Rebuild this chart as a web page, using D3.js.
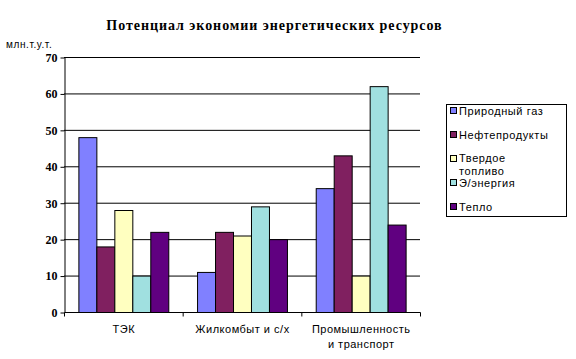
<!DOCTYPE html>
<html><head><meta charset="utf-8">
<script src="https://cdn.jsdelivr.net/npm/d3@7"></script>
<style>body{margin:0;background:#fff}</style>
</head><body>
<svg id="c" width="576" height="359"></svg>
<script>
const categories = [["ТЭК"], ["Жилкомбыт и с/х"], ["Промышленность", "и транспорт"]];
const seriesNames = ["Природный газ", "Нефтепродукты", "Твердое топливо", "Э/энергия", "Тепло"];
const gas = [48, 11, 34];
const oil = [18, 22, 43];
const solid = [28, 21, 10];
const elec = [10, 29, 62];
const heat = [22, 20, 24];
const yTicks = [0, 10, 20, 30, 40, 50, 60, 70];
const colors = ["#8080FF", "#802060", "#FFFFC0", "#A0E0E0", "#600080"];
const series = [gas, oil, solid, elec, heat];

const svg = d3.select("#c");
const L = 64, R = 420, T = 57, B = 312;
const x0 = d3.scaleBand().domain(d3.range(categories.length)).range([L, R]).paddingInner(0).paddingOuter(0);
const x1 = d3.scaleBand().domain(d3.range(series.length)).range([0, x0.bandwidth()]).paddingOuter(0.8).paddingInner(0);
const y = d3.scaleLinear().domain([0, 70]).range([B, T]);

svg.append("text").attr("x", 274.5).attr("y", 30).attr("text-anchor", "middle")
  .attr("font-family", "Liberation Serif").attr("font-weight", "bold").attr("font-size", 14)
  .attr("letter-spacing", 0.95)
  .text("Потенциал экономии энергетических ресурсов");
svg.append("text").attr("x", 6).attr("y", 48)
  .attr("font-family", "Liberation Sans").attr("font-size", 10).attr("letter-spacing", 0.6).text("млн.т.у.т.");

// grid
svg.append("g").selectAll("line").data(yTicks.filter(d => d > 0)).join("line")
  .attr("x1", L).attr("x2", R).attr("y1", d => y(d) + 0.5).attr("y2", d => y(d) + 0.5)
  .attr("stroke", "#000").attr("stroke-width", 1);

// bars
series.forEach((s, si) => {
  svg.append("g").selectAll("rect").data(s).join("rect")
    .attr("x", (d, i) => x0(i) + x1(si) + 0.5)
    .attr("y", d => y(d) + 0.5)
    .attr("width", x1.bandwidth())
    .attr("height", d => y(0) - y(d))
    .attr("fill", colors[si]).attr("stroke", "#000").attr("stroke-width", 1);
});

// y axis
const ya = svg.append("g").attr("transform", `translate(${L + 0.5},0.5)`)
  .call(d3.axisLeft(y).tickValues(yTicks).tickSize(4).tickPadding(3).tickSizeOuter(0));
ya.select(".domain").attr("stroke", "#000");
ya.selectAll("text").attr("font-family", "Liberation Serif").attr("font-weight", "bold").attr("font-size", 12).attr("fill", "#000");

// x axis
const xa = svg.append("g").attr("transform", `translate(0.5,${B + 0.5})`);
xa.append("line").attr("x1", L).attr("x2", R).attr("stroke", "#000");
const bounds = d3.range(categories.length + 1).map(i => i < categories.length ? x0(i) : R);
xa.selectAll(".tk").data(bounds).join("line").attr("class", "tk")
  .attr("x1", d => d).attr("x2", d => d).attr("y1", 0).attr("y2", 4).attr("stroke", "#000");
categories.forEach((lines, i) => {
  const t = xa.append("text").attr("text-anchor", "middle")
    .attr("font-family", "Liberation Sans").attr("font-size", 11).attr("letter-spacing", 0.5).attr("fill", "#000");
  lines.forEach((ln, j) => t.append("tspan").attr("x", x0(i) + x0.bandwidth() / 2).attr("y", 20 + j * 15).text(ln));
});

// legend
const lg = svg.append("g");
lg.append("rect").attr("x", 446.5).attr("y", 104.5).attr("width", 120).attr("height", 112)
  .attr("fill", "#fff").attr("stroke", "#000");
const legY = [111, 135, 159, 183, 207];
seriesNames.forEach((n, i) => {
  lg.append("rect").attr("x", 450.5).attr("y", legY[i] - 3.5).attr("width", 6).attr("height", 6)
    .attr("fill", colors[i]).attr("stroke", "#000");
  const t = lg.append("text").attr("font-family", "Liberation Sans").attr("font-size", 11)
    .attr("letter-spacing", 0.6).attr("fill", "#000");
  if (n === "Твердое топливо") {
    t.append("tspan").attr("x", 459).attr("y", legY[i] + 3).text("Твердое");
    t.append("tspan").attr("x", 459).attr("y", legY[i] + 15.5).text("топливо");
  } else {
    t.append("tspan").attr("x", 459).attr("y", legY[i] + 4).text(n);
  }
});
</script>
</body></html>
